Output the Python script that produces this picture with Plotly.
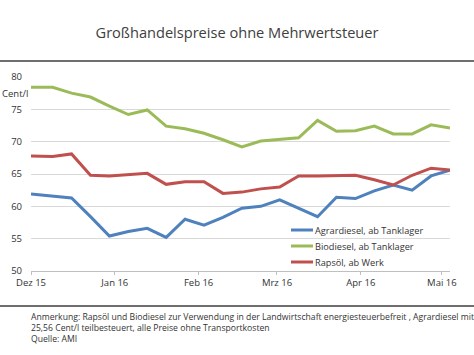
import plotly.graph_objects as go

dates = ["2015-12-01", "2015-12-09", "2015-12-16", "2015-12-23", "2015-12-30",
         "2016-01-06", "2016-01-13", "2016-01-20", "2016-01-27",
         "2016-02-03", "2016-02-10", "2016-02-17", "2016-02-24",
         "2016-03-02", "2016-03-09", "2016-03-16", "2016-03-23", "2016-03-30",
         "2016-04-06", "2016-04-13", "2016-04-20", "2016-04-27", "2016-05-04"]

agrardiesel = [61.9, 61.6, 61.3, 58.4, 55.4, 56.1, 56.6, 55.2, 58.0, 57.1, 58.3, 59.7,
               60.0, 61.0, 59.7, 58.4, 61.4, 61.2, 62.4, 63.3, 62.5, 64.7, 65.6]
biodiesel = [78.4, 78.4, 77.5, 76.9, 75.5, 74.2, 74.9, 72.4, 72.0, 71.3, 70.3, 69.2,
             70.1, 70.4, 70.6, 73.3, 71.6, 71.7, 72.4, 71.2, 71.2, 72.6, 72.1]
rapsoel = [67.8, 67.7, 68.1, 64.8, 64.7, 64.9, 65.1, 63.4, 63.8, 63.8, 62.0, 62.2,
           62.7, 63.0, 64.7, 64.7, 64.7, 64.8, 64.1, 63.3, 64.8, 65.9, 65.6]

series_names = ["Agrardiesel, ab Tanklager", "Biodiesel, ab Tanklager", "Rapsöl, ab Werk"]
series_colors = ["#4F81BD", "#9BBB59", "#C0504D"]

month_ticks = ["2015-12-01", "2016-01-01", "2016-02-01", "2016-03-01", "2016-04-01", "2016-05-01"]
month_labels = ["Dez 15", "Jan 16", "Feb 16", "Mrz 16", "Apr 16", "Mai 16"]
y_ticks = [50, 55, 60, 65, 70, 75, 80]

title_text = "Großhandelspreise ohne Mehrwertsteuer"
y_unit = "Cent/l"
note_text = ("Anmerkung: Rapsöl und Biodiesel zur Verwendung in der Landwirtschaft energiesteuerbefreit , Agrardiesel mit<br>"
             "25,56 Cent/l teilbesteuert, alle Preise ohne Transportkosten<br>"
             "Quelle: AMI")

W, H = 474, 355
ml, mr, mt, mb = 31, 24, 77, 84
pw = W - ml - mr
ph = H - mt - mb

fig = go.Figure()
for name, vals, col in zip(series_names, [agrardiesel, biodiesel, rapsoel], series_colors):
    fig.add_trace(go.Scatter(x=dates, y=vals, mode="lines", name=name,
                             line=dict(color=col, width=3), showlegend=False,
                             hoverinfo="skip"))


def py(p):
    return (H - mb - p) / ph


def px(p):
    return (p - ml) / pw


fig.update_layout(
    width=W, height=H,
    margin=dict(l=ml, r=mr, t=mt, b=mb),
    paper_bgcolor="white", plot_bgcolor="white",
    font=dict(family="Open Sans", size=10, color="#333333"),
    title=dict(text=title_text, x=0.5, xanchor="center", y=1 - 33 / H, yanchor="middle",
               yref="container", font=dict(family="Open Sans", size=14.6, color="#404040")),
    showlegend=False,
    xaxis=dict(type="date", range=["2015-12-01", "2016-05-04"],
               tickvals=month_ticks, ticktext=month_labels,
               showgrid=False, showline=True, linecolor="#bfbfbf", linewidth=1,
               ticks="outside", ticklen=3, tickcolor="#bfbfbf",
               tickfont=dict(size=9.5, color="#333333"), zeroline=False),
    yaxis=dict(range=[50, 80], tickvals=y_ticks, showgrid=True, gridcolor="#d9d9d9",
               gridwidth=1, showline=False, zeroline=False, ticks="",
               ticklabelstandoff=8, tickfont=dict(size=9.5, color="#333333")),
)

# frame lines above and below the plot
for p in (61, 306):
    fig.add_shape(type="line", xref="paper", yref="paper", x0=px(0), x1=px(W),
                  y0=py(p), y1=py(p), layer="above", line=dict(color="#6e6e6e", width=2))

# legend (built from the series names/colours)
leg_y = [230, 246, 262]
for name, col, yy in zip(series_names, series_colors, leg_y):
    fig.add_shape(type="line", xref="paper", yref="paper", x0=px(291), x1=px(313),
                  y0=py(yy), y1=py(yy), line=dict(color=col, width=3))
    fig.add_annotation(text=name, xref="paper", yref="paper", x=px(313), y=py(yy),
                       xanchor="left", yanchor="middle", showarrow=False,
                       font=dict(size=9.2, color="#333333"))

fig.add_annotation(text=y_unit, xref="paper", yref="y", x=px(0), y=77.5,
                   xanchor="left", yanchor="middle", showarrow=False,
                   font=dict(size=9.5, color="#333333"))
fig.add_annotation(text=note_text, xref="paper", yref="paper", x=px(29), y=py(309),
                   xanchor="left", yanchor="top", align="left", showarrow=False,
                   font=dict(size=8.65, color="#333333"))

fig.write_html("out.html", config={"displayModeBar": False, "staticPlot": True},
               post_script="document.body.style.margin='0';document.body.style.overflow='hidden';")
